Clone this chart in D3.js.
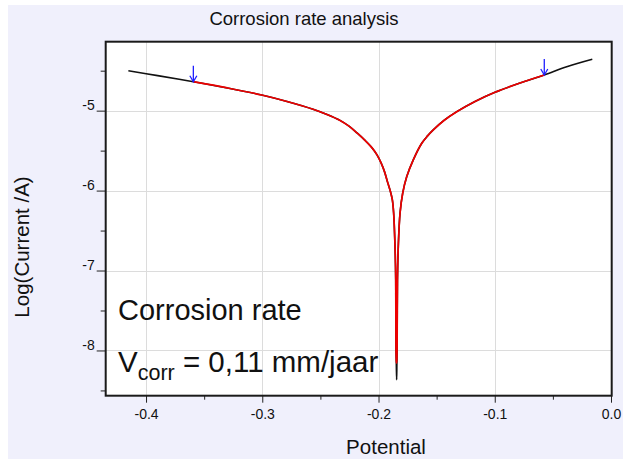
<!DOCTYPE html>
<html>
<head>
<meta charset="utf-8">
<script src="https://cdn.jsdelivr.net/npm/d3@7"></script>
<style>
  html, body { margin: 0; padding: 0; background: #ffffff; }
  svg { display: block; font-family: "Liberation Sans", Arial, sans-serif; }
</style>
</head>
<body>
<svg id="chart" width="623" height="459"></svg>
<script>
// ---- data ----
const measuredPotential = [-0.4152, -0.3900, -0.3593, -0.3300, -0.3005, -0.2787, -0.2563, -0.2443, -0.2331, -0.2254, -0.2185, -0.2116, -0.2055, -0.2013, -0.1978, -0.1948, -0.1923, -0.1899, -0.1881, -0.1870, -0.1858, -0.1852, -0.1850, -0.1847, -0.1844, -0.1842, -0.1840, -0.1837, -0.1830, -0.1815, -0.1792, -0.1757, -0.1701, -0.1628, -0.1580, -0.1529, -0.1437, -0.1327, -0.1170, -0.0998, -0.0783, -0.0574, -0.0381, -0.0161];
const measuredLogI     = [-4.500, -4.562, -4.638, -4.716, -4.804, -4.885, -4.982, -5.048, -5.122, -5.194, -5.279, -5.372, -5.466, -5.554, -5.654, -5.766, -5.891, -6.004, -6.116, -6.279, -6.704, -7.116, -7.950, -8.160, -8.366, -8.160, -7.950, -7.116, -6.700, -6.283, -6.033, -5.825, -5.616, -5.408, -5.319, -5.241, -5.123, -5.013, -4.885, -4.770, -4.654, -4.554, -4.450, -4.357];

const fitPotential = [-0.3593, -0.3300, -0.3005, -0.2787, -0.2563, -0.2443, -0.2331, -0.2254, -0.2185, -0.2116, -0.2055, -0.2013, -0.1978, -0.1948, -0.1923, -0.1899, -0.1881, -0.1870, -0.1858, -0.1852, -0.1850, -0.1847, -0.1845, -0.1843, -0.1840, -0.1837, -0.1830, -0.1815, -0.1792, -0.1757, -0.1701, -0.1628, -0.1580, -0.1529, -0.1437, -0.1327, -0.1170, -0.0998, -0.0783, -0.0574];
const fitLogI     = [-4.638, -4.716, -4.804, -4.885, -4.982, -5.048, -5.122, -5.194, -5.279, -5.372, -5.466, -5.554, -5.654, -5.766, -5.891, -6.004, -6.116, -6.279, -6.704, -7.116, -7.950, -8.130, -8.160, -8.130, -7.950, -7.116, -6.700, -6.283, -6.033, -5.825, -5.616, -5.408, -5.319, -5.241, -5.123, -5.013, -4.885, -4.770, -4.654, -4.554];

const arrowPotential = [-0.3593, -0.0574];
const arrowLogI      = [-4.638, -4.554];

const xMajorTicks = [-0.4, -0.3, -0.2, -0.1, 0.0];
const xTickLabels = ["-0.4", "-0.3", "-0.2", "-0.1", "0.0"];
const xMinorTicks = [-0.35, -0.25, -0.15, -0.05];
const yMajorTicks = [-5, -6, -7, -8];
const yTickLabels = ["-5", "-6", "-7", "-8"];
const yMinorTicks = [-4.5, -5.5, -6.5, -7.5, -8.5];

const titleText = "Corrosion rate analysis";
const xLabel = "Potential";
const yLabel = "Log(Current /A)";

// ---- layout ----
const svg = d3.select("#chart");
const W = 623, H = 459;
const plot = { left: 105.7, right: 611.7, top: 41.7, bottom: 395.7 };

svg.append("rect").attr("x", 8).attr("y", 5).attr("width", W - 8).attr("height", H - 5)
  .attr("fill", "#f0f0fc");

const x = d3.scaleLinear().domain([-0.4347, 0.0006]).range([plot.left, plot.right]);
const y = d3.scaleLinear().domain([-8.566, -4.1375]).range([plot.bottom, plot.top]);

// plot background
svg.append("rect").attr("x", plot.left).attr("y", plot.top)
  .attr("width", plot.right - plot.left).attr("height", plot.bottom - plot.top)
  .attr("fill", "#ffffff");

// grid
const grid = svg.append("g").attr("stroke", "#dcdcdc").attr("stroke-width", 1);
grid.selectAll("line.gx").data(xMajorTicks).join("line")
  .attr("x1", d => Math.round(x(d)) + 0.5).attr("x2", d => Math.round(x(d)) + 0.5)
  .attr("y1", plot.top).attr("y2", plot.bottom);
grid.selectAll("line.gy").data(yMajorTicks).join("line")
  .attr("y1", d => Math.round(y(d)) + 0.5).attr("y2", d => Math.round(y(d)) + 0.5)
  .attr("x1", plot.left).attr("x2", plot.right);

// axes
const xAxis = d3.axisBottom(x).tickValues(xMajorTicks).tickSize(7).tickPadding(6)
  .tickFormat((d, i) => xTickLabels[i]);
const gx = svg.append("g").attr("transform", `translate(0,${plot.bottom})`).call(xAxis);
const xMinor = d3.axisBottom(x).tickValues(xMinorTicks).tickSize(4).tickFormat("");
const gxm = svg.append("g").attr("transform", `translate(0,${plot.bottom})`).call(xMinor);

const yAxis = d3.axisLeft(y).tickValues(yMajorTicks).tickSize(9).tickPadding(2)
  .tickFormat((d, i) => yTickLabels[i]);
const gy = svg.append("g").attr("transform", `translate(${plot.left},0)`).call(yAxis);
const yMinor = d3.axisLeft(y).tickValues(yMinorTicks).tickSize(5).tickFormat("");
const gym = svg.append("g").attr("transform", `translate(${plot.left},0)`).call(yMinor);

[gx, gxm, gy, gym].forEach(g => {
  g.select(".domain").remove();
  g.selectAll(".tick line").attr("stroke", "#222").attr("stroke-width", 1);
  g.selectAll("text").attr("fill", "#111").attr("font-family", "Liberation Sans, Arial, sans-serif");
});
gx.selectAll("text").attr("font-size", 14);
gy.selectAll("text").attr("font-size", 14).attr("dy", "-0.05em");

// curves
const line = d3.line().x(d => x(d[0])).y(d => y(d[1])).curve(d3.curveCatmullRom.alpha(0.5));
const measured = measuredPotential.map((p, i) => [p, measuredLogI[i]]);
const fit = fitPotential.map((p, i) => [p, fitLogI[i]]);

svg.append("path").datum(measured).attr("d", line)
  .attr("fill", "none").attr("stroke", "#111").attr("stroke-width", 1.6);
svg.append("path").datum(fit).attr("d", line)
  .attr("fill", "none").attr("stroke", "#ee0000").attr("stroke-width", 1.7);

// arrows
const arrows = svg.append("g").attr("stroke", "#2020ff").attr("stroke-width", 1.3).attr("fill", "none");
arrowPotential.forEach((p, i) => {
  const ax = x(p), ay = y(arrowLogI[i]);
  arrows.append("line").attr("x1", ax).attr("x2", ax).attr("y1", ay - 16).attr("y2", ay);
  arrows.append("path").attr("d", `M${ax - 3.5},${ay - 6}L${ax},${ay}L${ax + 3.5},${ay - 6}`);
});

// border
svg.append("rect").attr("x", plot.left).attr("y", plot.top)
  .attr("width", plot.right - plot.left).attr("height", plot.bottom - plot.top)
  .attr("fill", "none").attr("stroke", "#1a1a1a").attr("stroke-width", 2);

// titles
svg.append("text").attr("x", 304).attr("y", 25).attr("text-anchor", "middle")
  .attr("font-size", 18.5).attr("fill", "#111").text(titleText);
svg.append("text").attr("x", 386).attr("y", 454).attr("text-anchor", "middle")
  .attr("font-size", 20.5).attr("fill", "#111").text(xLabel);
svg.append("text").attr("transform", "translate(29,247) rotate(-90)").attr("text-anchor", "middle")
  .attr("font-size", 20.5).attr("fill", "#111").text(yLabel);

// annotation
svg.append("text").attr("x", 118).attr("y", 319.5).attr("font-size", 29).attr("fill", "#111")
  .text("Corrosion rate");
const v = svg.append("text").attr("x", 118).attr("y", 371.5).attr("font-size", 29.5).attr("fill", "#111");
v.append("tspan").text("V");
v.append("tspan").attr("font-size", 21.5).attr("dy", 8).text("corr");
v.append("tspan").attr("dy", -8).text(" = 0,11 mm/jaar");
</script>
</body>
</html>
